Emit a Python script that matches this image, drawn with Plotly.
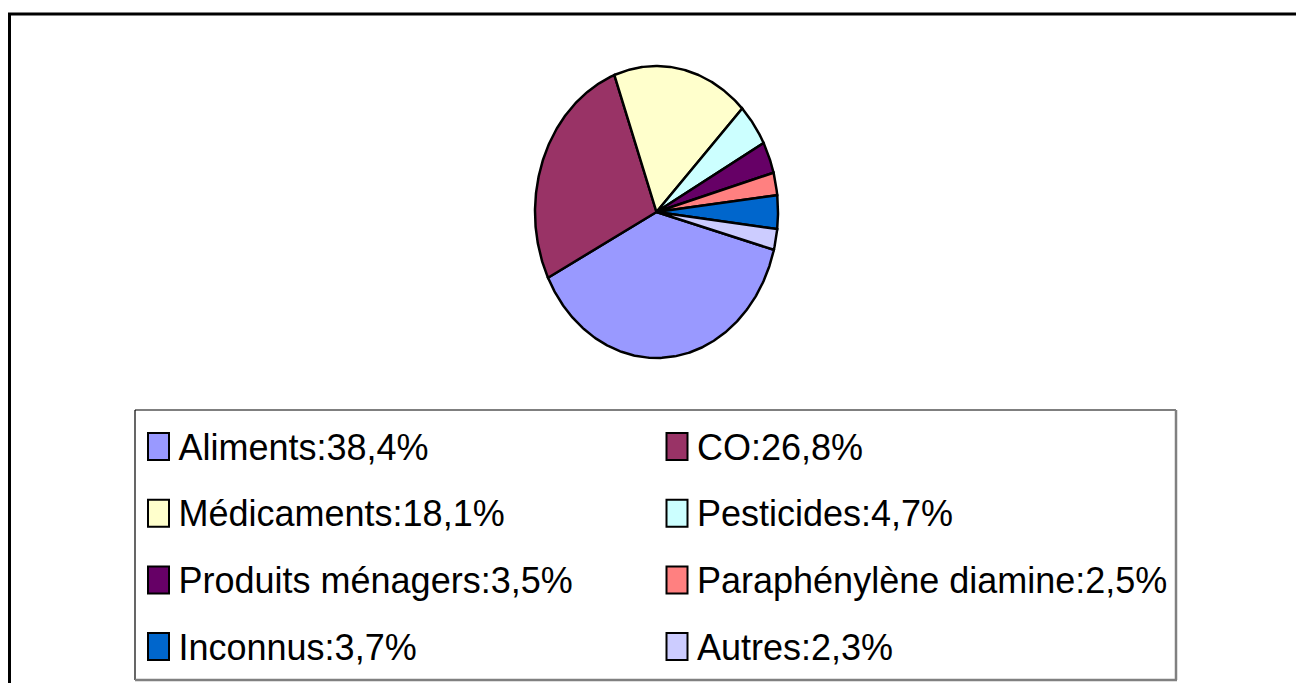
import numpy as np
import plotly.graph_objects as go

# ---- data ----
labels = ["Aliments", "CO", "Médicaments", "Pesticides", "Produits ménagers",
          "Paraphénylène diamine", "Inconnus", "Autres"]
values = [38.4, 26.8, 18.1, 4.7, 3.5, 2.5, 3.7, 2.3]
colors = ["#9999FF", "#993366", "#FFFFCC", "#CCFFFF", "#660066",
          "#FF8080", "#0066CC", "#CCCCFF"]

W, H = 1296, 683
START_DEG = 105.0  # first slice starts here, clockwise from 12 o'clock

fig = go.Figure()

# ---- pie slices (filled sectors on a unit-circle axis, stretched to an ellipse) ----
total = float(sum(values))
theta0 = np.deg2rad(START_DEG)
for lab, val, col in zip(labels, values, colors):
    span = 2 * np.pi * val / total
    t = np.linspace(theta0, theta0 + span, max(int(val * 6), 12))
    xs = np.concatenate([[0.0], np.sin(t), [0.0]])
    ys = np.concatenate([[0.0], np.cos(t), [0.0]])
    fig.add_trace(go.Scatter(x=xs, y=ys, mode="lines", fill="toself",
                             fillcolor=col, line=dict(color="black", width=2.5),
                             hoverinfo="text", text=f"{lab}: {val}%",
                             showlegend=False, xaxis="x", yaxis="y"))
    theta0 += span

# ---- custom legend (2 columns x 4 rows) on a pixel-like overlay axis ----
col_x = [158.5, 677.0]
row_y0, row_dy = 446.5, 66.7
sw_w, sw_h = 21, 27
leg_text = [f"{l}:{v:.1f}".replace(".", ",") + "%" for l, v in zip(labels, values)]
shapes = []
for i, (txt, col) in enumerate(zip(leg_text, colors)):
    cx = col_x[i % 2]
    cy = row_y0 + (i // 2) * row_dy
    shapes.append(dict(type="rect", xref="x2", yref="y2",
                       x0=cx - sw_w / 2, x1=cx + sw_w / 2,
                       y0=cy - sw_h / 2, y1=cy + sw_h / 2,
                       fillcolor=col, line=dict(color="black", width=2)))
    fig.add_trace(go.Scatter(x=[cx + 20], y=[cy + 4], mode="text", text=[txt],
                             textposition="middle right",
                             textfont=dict(family="Liberation Sans, Arial",
                                           size=36, color="black"),
                             showlegend=False, hoverinfo="skip",
                             xaxis="x2", yaxis="y2", cliponaxis=False))

# ---- layout geometry ----
cx_pie, cy_pie, rx, ry = 656.5, 212.0, 121.5, 146.0
pad = 1.05
x_dom = [(cx_pie - rx * pad) / W, (cx_pie + rx * pad) / W]
y_dom = [1 - (cy_pie + ry * pad) / H, 1 - (cy_pie - ry * pad) / H]

shapes += [
    # outer chart frame (extends beyond the visible window on right/bottom)
    dict(type="line", xref="x2", yref="y2", x0=9.5, y0=14, x1=9.5, y1=H + 20,
         line=dict(color="black", width=3)),
    dict(type="line", xref="x2", yref="y2", x0=8, y0=14, x1=W + 20, y1=14,
         line=dict(color="black", width=3)),
    # legend box
    dict(type="line", xref="x2", yref="y2", x0=135, y0=410, x1=1176, y1=410,
         line=dict(color="black", width=1.2)),
    dict(type="line", xref="x2", yref="y2", x0=135, y0=410, x1=135, y1=680,
         line=dict(color="black", width=1.2)),
    dict(type="line", xref="x2", yref="y2", x0=1176, y0=410, x1=1176, y1=680,
         line=dict(color="#808080", width=2.5)),
    dict(type="line", xref="x2", yref="y2", x0=135, y0=680, x1=1177, y1=680,
         line=dict(color="#808080", width=2.5)),
]

fig.update_layout(
    width=W, height=H,
    margin=dict(l=0, r=0, t=0, b=0),
    paper_bgcolor="white", plot_bgcolor="rgba(0,0,0,0)",
    showlegend=False,
    xaxis=dict(domain=x_dom, range=[-pad, pad], visible=False, fixedrange=True,
               anchor="y"),
    yaxis=dict(domain=y_dom, range=[-pad, pad], visible=False, fixedrange=True,
               anchor="x"),
    xaxis2=dict(domain=[0, 1], range=[0, W], visible=False, fixedrange=True,
                anchor="y2"),
    yaxis2=dict(domain=[0, 1], range=[H, 0], visible=False, fixedrange=True,
                anchor="x2"),
    shapes=shapes,
)

fig.write_html("out.html",
               config={"displayModeBar": False},
               post_script="document.body.style.margin='0';document.body.style.overflow='hidden';")
